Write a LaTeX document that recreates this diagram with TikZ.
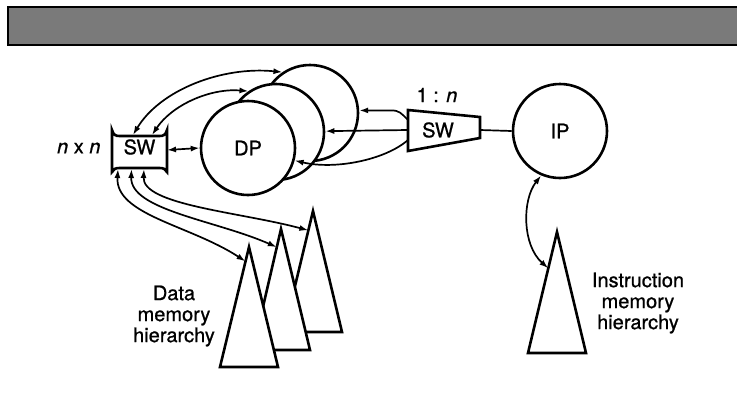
\documentclass[tikz,border=0pt]{standalone}
\usepackage{fontspec}
\setmainfont[FakeBold=0.9]{TeX Gyre Heros}
\usetikzlibrary{arrows.meta,calc}

\begin{document}
\begin{tikzpicture}[x=1pt,y=-1pt,
  >={Latex[length=9pt,width=6pt]},
  outline/.style={line width=2.6pt, line join=miter},
  unit/.style={circle, draw, line width=2.6pt, fill=white, minimum size=#1, inner sep=0pt},
  txt/.style={font=\fontsize{20}{21}\selectfont},
  link/.style={line width=1.7pt, ->},
  bilink/.style={line width=1.7pt, <->},
  plain/.style={line width=1.7pt},
]
\useasboundingbox (0,0) rectangle (737,413);

% header band
\fill[black!52] (8,7) rectangle (737,45);
\draw[line width=1.6pt] (737,7) -- (8,7) -- (8,45) -- (737,45);

% data processors, back to front, and the instruction processor
\node[unit=96pt] (dpC) at (310,113) {};
\node[unit=96pt] (dpB) at (276,132) {};
\node[unit=94pt, txt] (dpA) at (248,148) {DP};
\node[unit=94pt, txt] (ip) at (560,131) {IP};

% n x n switch
\node[txt, inner sep=0pt] (swL) at (139.5,147) {SW};
\draw[outline, shift={(swL.center)}]
  (-27.5,-17) .. controls (-26,-12) and (-24,-11) .. (-20,-11) -- (20,-11)
  .. controls (24,-11) and (26,-12) .. (27.5,-17) -- (27.5,25)
  .. controls (26,22) and (24,21) .. (20,21) -- (-20,21)
  .. controls (-24,21) and (-26,22) .. (-27.5,25) -- cycle;
\node[txt, anchor=east] (nxn) at (104,148) {\textit{n} x \textit{n}};

% 1 : n switch
\node[txt, inner sep=0pt] (swR) at (438,130) {SW};
\draw[outline, shift={(swR.center)}] (-30,-20) -- (42,-13) -- (42,8) -- (-30,21) -- cycle;
\node[txt] (ratio) at (437,95) {1 : \textit{n}};

% data memory hierarchies, back to front
\coordinate (dmCtop) at (313,211);
\coordinate (dmCleft) at (284,332);
\coordinate (dmCright) at (342,332);
\coordinate (dmBtop) at (281,229);
\coordinate (dmBleft) at (253,350);
\coordinate (dmBright) at (310,350);
\coordinate (dmAtop) at (249,247);
\coordinate (dmAleft) at (220,367);
\coordinate (dmAright) at (278,367);
\draw[outline, fill=white] (dmCtop) -- (dmCright) -- (dmCleft) -- cycle;
\draw[outline, fill=white] (dmBtop) -- (dmBright) -- (dmBleft) -- cycle;
\draw[outline, fill=white] (dmAtop) -- (dmAright) -- (dmAleft) -- cycle;
\coordinate (dmAin) at ($(dmAtop)!0.12!(dmAleft)$);
\coordinate (dmBin) at ($(dmBtop)!0.15!(dmBleft)$);
\coordinate (dmCin) at ($(dmCtop)!0.16!(dmCleft)$);

% instruction memory hierarchy
\coordinate (imTop) at (557,232);
\coordinate (imLeft) at (528,353);
\coordinate (imRight) at (586,353);
\draw[outline, fill=white] (imTop) -- (imRight) -- (imLeft) -- cycle;
\coordinate (imIn) at ($(imTop)!0.3!(imLeft)$);

% labels
\node[txt, align=center] (dmLabel) at (174,316) {Data\\memory\\hierarchy};
\node[txt, align=center] (imLabel) at (638,303) {Instruction\\memory\\hierarchy};

% n x n switch to processors
\draw[bilink] ($(swL.center)+(27.5,3)$) -- (dpA.west);
\draw[bilink] ($(swL.center)+(-6.5,-12)$) .. controls (160,90) and (222,66) .. (dpC.124);
\draw[bilink] ($(swL.center)+(12.5,-12)$) .. controls (172,105) and (210,88) .. (dpB.124);

% n x n switch to data memories
\draw[bilink] ($(swL.center)+(-21.5,22)$) .. controls (115,215) and (190,225) .. (dmAin);
\draw[bilink] ($(swL.center)+(-8,22)$) .. controls (130,210) and (215,220) .. (dmBin);
\draw[bilink] ($(swL.center)+(4.5,22)$) .. controls (142,205) and (240,212) .. (dmCin);

% 1 : n switch to processors
\draw[link] ($(swR.center)+(-30,-10)$) .. controls +(-7,-7) and +(8,0) .. ($(dpC.3)+(32,0)$) -- (dpC.3);
\draw[link] ($(swR.center)+(-30,0)$) -- (dpB.1);
\draw[link] ($(swR.center)+(-30,10)$) .. controls (385,160) and (335,170) .. (dpA.-15);

% instruction path
\draw[plain] ($(swR.center)+(42,0)$) -- (ip.west);
\draw[bilink] (ip.-113) .. controls (522,200) and (522,245) .. (imIn);
\end{tikzpicture}
\end{document}
